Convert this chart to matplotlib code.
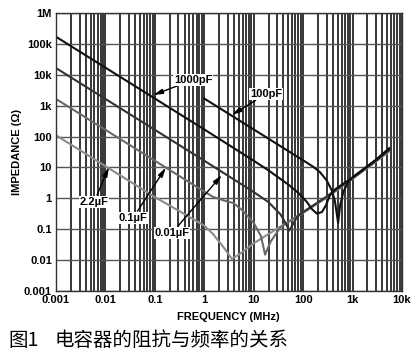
import matplotlib.pyplot as plt
from matplotlib.ticker import FixedLocator, LogLocator, NullFormatter

plt.rcParams['font.family'] = ['Liberation Sans', 'DejaVu Sans']

# frequency (MHz) / impedance (ohm)
f_2u2 = [0.001, 0.01, 0.1, 0.5, 1, 1.5, 2.5, 3.6, 5, 10, 20, 34, 60, 100, 300, 1000, 3000, 5500]
z_2u2 = [110, 11, 1.1, 0.25, 0.13, 0.07, 0.025, 0.011, 0.015, 0.035, 0.07, 0.12, 0.2, 0.34, 1.05, 4.3, 15.5, 33]

f_0u1 = [0.001, 0.01, 0.1, 1, 1.5, 2.5, 3.9, 6, 10, 14, 17, 22, 34, 60, 100, 300, 1000, 3000, 5500]
z_0u1 = [1650, 165, 16.5, 1.65, 1.12, 0.85, 0.7, 0.4, 0.16, 0.06, 0.015, 0.04, 0.11, 0.21, 0.35, 1.1, 4.5, 16.5, 35]

f_0u01 = [0.001, 0.01, 0.1, 1, 10, 20, 35, 45, 52, 60, 75, 100, 300, 1000, 3000, 5500]
z_0u01 = [16500, 1650, 165, 16.5, 1.6, 0.75, 0.3, 0.15, 0.09, 0.13, 0.25, 0.36, 1.15, 4.6, 17, 37]

f_1n = [0.001, 0.01, 0.1, 1, 10, 20, 50, 80, 120, 150, 190, 240, 290, 350, 450, 1000, 3000, 5500]
z_1n = [170000, 17000, 1700, 170, 16.5, 8, 2.8, 1.5, 0.75, 0.45, 0.32, 0.36, 0.6, 1.3, 2.0, 4.7, 17.5, 39]

f_100p = [1, 10, 100, 160, 220, 300, 380, 440, 510, 560, 650, 800, 1000, 3000, 5500]
z_100p = [1700, 170, 17, 10.5, 7, 3.8, 1.8, 0.8, 0.16, 0.6, 1.6, 3.2, 4.8, 18, 42]

x_ticks = [0.001, 0.01, 0.1, 1, 10, 100, 1000, 10000]
x_labels = ["0.001", "0.01", "0.1", "1", "10", "100", "1k", "10k"]
y_ticks = [0.001, 0.01, 0.1, 1, 10, 100, 1e3, 1e4, 1e5, 1e6]
y_labels = ["0.001", "0.01", "0.1", "1", "10", "100", "1k", "10k", "100k", "1M"]

fig = plt.figure(figsize=(4.14, 3.57), dpi=100)
ax = fig.add_axes([56 / 414, 1 - 291 / 357, 346 / 414, 278 / 357])

ax.set_xscale("log")
ax.set_yscale("log")
ax.set_xlim(0.001, 10000)
ax.set_ylim(0.001, 1e6)

ax.xaxis.set_major_locator(FixedLocator(x_ticks))
ax.xaxis.set_minor_locator(LogLocator(base=10, subs=range(2, 10), numticks=20))
ax.xaxis.set_minor_formatter(NullFormatter())
ax.yaxis.set_major_locator(FixedLocator(y_ticks))
ax.yaxis.set_minor_locator(FixedLocator([]))
ax.set_xticklabels(x_labels)
ax.set_yticklabels(y_labels)

ax.grid(True, which="major", axis="y", color="#555555", lw=1.0)
ax.grid(True, which="both", axis="x", color="black", lw=1.1)
ax.set_axisbelow(True)
for s in ax.spines.values():
    s.set_color("#333333")
    s.set_linewidth(1.0)

ax.tick_params(which="both", length=0, labelsize=8, pad=3)
for lab in ax.get_xticklabels() + ax.get_yticklabels():
    lab.set_fontweight("bold")

ax.plot(f_2u2, z_2u2, color="#8c8c8c", lw=1.5)
ax.plot(f_0u1, z_0u1, color="#6a6a6a", lw=1.5)
ax.plot(f_0u01, z_0u01, color="#333333", lw=1.5)
ax.plot(f_1n, z_1n, color="#111111", lw=1.5)
ax.plot(f_100p, z_100p, color="#111111", lw=1.5)

arrow = dict(arrowstyle="-|>,head_length=0.7,head_width=0.18", color="black", lw=1.0,
             shrinkA=1, shrinkB=0)
box = dict(facecolor="white", edgecolor="none", pad=0.5)
notes = [
    ("1000pF", (0.092, 2200), (0.59, 6800)),
    ("100pF", (3.6, 500), (17.8, 2400)),
    ("2.2\u00b5F", (0.0118, 10.4), (0.0059, 0.76)),
    ("0.1\u00b5F", (0.168, 10), (0.036, 0.23)),
    ("0.01\u00b5F", (2.27, 5.7), (0.223, 0.076)),
]
for txt, tip, pos in notes:
    ax.annotate(txt, xy=tip, xytext=pos, ha="center", va="center", fontsize=8,
                fontweight="bold", bbox=box, arrowprops=arrow)

ax.set_xlabel("FREQUENCY (MHz)", fontsize=8, fontweight="bold")
ax.set_ylabel("IMPEDANCE (\u03a9)", fontsize=8, fontweight="bold")
ax.xaxis.set_label_coords(0.497, -0.094)
ax.yaxis.set_label_coords(-0.112, 0.5)
ax.xaxis.label.set_va("center")
ax.yaxis.label.set_va("center")

cjk = ["Noto Sans CJK SC", "DejaVu Sans"]
fig.text(8 / 414, 1 - 340 / 357, "图1", fontsize=14, family=cjk, va="center")
fig.text(55 / 414, 1 - 340 / 357, "电容器的阻抗与频率的关系", fontsize=14, family=cjk, va="center")

fig.savefig("out.png", dpi=100)
